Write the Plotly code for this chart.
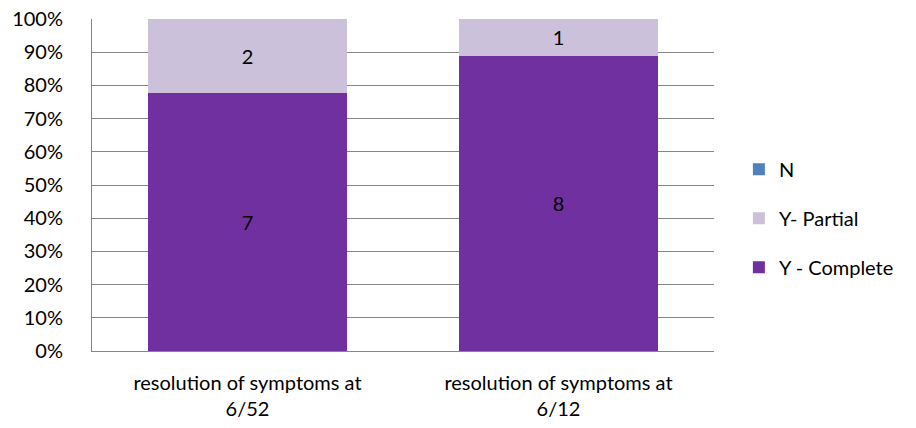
import plotly.graph_objects as go

# Outcome counts per follow-up group
categories = ["resolution of symptoms at<br>6/52", "resolution of symptoms at<br>6/12"]
y_complete = [7, 8]
y_partial = [2, 1]
n_none = [0, 0]
pct_ticks = list(range(0, 101, 10))
pct_labels = [f"{v}%" for v in pct_ticks]

# (name, counts, colour, legend rank) — stacked bottom to top
series = [
    ("Y - Complete", y_complete, "#7030A0", 3),
    ("Y- Partial", y_partial, "#CCC1DA", 2),
    ("N", n_none, "#4F81BD", 1),
]

fig = go.Figure()
for name, vals, color, rank in series:
    fig.add_trace(go.Bar(
        name=name,
        x=categories,
        y=vals,
        marker=dict(color=color, line=dict(width=0)),
        text=[str(v) if v else "" for v in vals],
        textposition="inside",
        insidetextanchor="middle",
        textfont=dict(color="black", size=20),
        legendgroup=name,
        legendrank=rank,
    ))

fig.update_layout(
    width=916,
    height=428,
    barmode="stack",
    barnorm="percent",
    bargap=0.358,
    plot_bgcolor="white",
    paper_bgcolor="white",
    font=dict(family="Lato, 'Open Sans', sans-serif", size=20, color="black"),
    margin=dict(l=92, r=202, t=19, b=77, autoexpand=False),
    showlegend=True,
    legend=dict(
        traceorder="grouped",
        tracegroupgap=20,
        x=1.04, xanchor="left",
        y=0.40, yanchor="middle",
        font=dict(size=20),
        itemwidth=30,
    ),
)

fig.update_yaxes(
    range=[0, 100],
    tickmode="array",
    tickvals=pct_ticks,
    ticktext=pct_labels,
    showgrid=True,
    gridcolor="#868686",
    gridwidth=1,
    showline=True,
    linecolor="#868686",
    linewidth=1,
    ticks="",
    ticklabelstandoff=24,
    zeroline=False,
    automargin=False,
    tickfont=dict(size=20),
)
fig.update_xaxes(
    showline=True,
    linecolor="#868686",
    linewidth=1,
    ticks="",
    ticklabelstandoff=14,
    automargin=False,
    tickfont=dict(size=20),
)

fig.write_html("out.html")
